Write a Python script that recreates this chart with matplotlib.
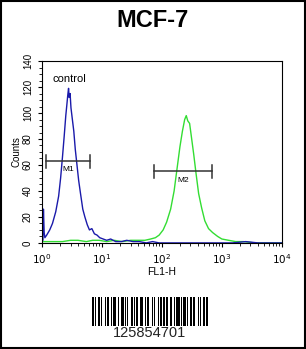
import matplotlib
matplotlib.use("Agg")
import matplotlib.pyplot as plt
import matplotlib.ticker as mticker
from matplotlib.patches import Rectangle
import numpy as np

plt.rcParams['font.family'] = ['Liberation Sans', 'DejaVu Sans']

# blue (control) histogram
ctrl_x = [1.00, 1.04, 1.06, 1.09, 1.12, 1.2, 1.35, 1.5, 1.7, 1.9, 2.05, 2.2, 2.35, 2.5, 2.6,
          2.7, 2.78, 2.85, 2.95, 3.05, 3.2, 3.4, 3.6, 3.8, 4.1, 4.4, 4.8, 5.2, 5.7,
          6.2, 6.8, 7.5, 8.3, 9.2, 10.5, 12, 14, 17, 21, 26, 33, 42, 55, 70, 90,
          120, 160, 220, 300, 500, 900, 1500, 2500, 4000, 10000]
ctrl_y = [2, 2, 26, 8, 4, 6, 10, 15, 24, 36, 50, 66, 82, 98, 106,
          114, 119, 112, 115, 104, 96, 86, 72, 62, 48, 38, 26, 20, 14,
          10, 11, 7, 6, 4, 3, 2, 3, 1, 1, 2, 1, 1, 0, 1, 0,
          0, 0, 0, 0, 0, 0, 0, 1, 0, 0]

# green (sample) histogram
samp_x = [1.0, 1.5, 2.2, 3.0, 4.0, 5.5, 7, 9, 12, 16, 22, 30, 40, 52, 65, 78,
          90, 105, 120, 140, 160, 180, 200, 220, 240, 255, 270, 290, 310, 340,
          370, 410, 460, 520, 600, 700, 850, 1000, 1300, 1700, 2300, 3500, 6000, 10000]
samp_y = [1, 1, 1, 2, 2, 1, 2, 2, 1, 2, 1, 2, 2, 2, 3, 4,
          6, 10, 16, 26, 40, 58, 74, 86, 95, 98, 94, 92, 82, 68,
          54, 38, 27, 17, 11, 8, 5, 3, 2, 1, 1, 0, 0, 0]

# marker gates
gates = [("M1", 1.17, 6.3, 63), ("M2", 73, 680, 55)]

# barcode bar/space widths (alternating, starting with bar)
barcode = [2, 1, 1, 1, 2, 1, 1, 2, 1, 1, 2, 1, 1, 1, 3, 1, 1, 2, 2, 1, 1, 1, 1, 2,
           2, 1, 1, 1, 1, 2, 3, 1, 1, 1, 2, 2, 1, 1, 1, 2, 1, 1, 2, 1, 1, 1, 2, 2,
           1, 2, 1, 1, 3, 1, 1, 1, 2, 1, 1, 2, 1, 1, 2, 2, 1, 1, 1, 2, 1, 1, 2]
barcode_text = "125854701"

fig = plt.figure(figsize=(3.06, 3.49), dpi=100)
fig.patches.append(Rectangle((0.003, 0.003), 0.994, 0.994, transform=fig.transFigure,
                             fill=False, edgecolor='black', linewidth=1.5))

fig.text(0.5, 0.942, "MCF-7", ha='center', va='center', fontsize=17, fontweight='bold')

ax = fig.add_axes([0.137, 0.304, 0.784, 0.521])
ax.plot(samp_x, samp_y, color='#33dd33', linewidth=1.0)
ax.plot(ctrl_x, ctrl_y, color='#1a1aaa', linewidth=1.0)
ax.set_xscale('log')
ax.set_xlim(1, 10000)
ax.set_ylim(0, 140)
ax.yaxis.set_major_locator(mticker.MultipleLocator(20))
ax.yaxis.set_minor_locator(mticker.MultipleLocator(5))
ax.xaxis.set_major_formatter(mticker.FuncFormatter(lambda v, _: r"$10^{%d}$" % round(np.log10(v))))
ax.tick_params(axis='both', labelsize=7, length=3, width=0.8)
ax.tick_params(axis='x', labelsize=7.5)
ax.tick_params(which='minor', length=2)
for lab in ax.get_yticklabels():
    lab.set_rotation(90)
    lab.set_va('center')
ax.set_ylabel("Counts", fontsize=7, labelpad=1)
ax.set_xlabel("FL1-H", fontsize=7.5, labelpad=1)

for name, x0, x1, y in gates:
    ax.plot([x0, x1], [y, y], color='#333333', linewidth=1.1)
    ax.plot([x0, x0], [y - 5, y + 5], color='#333333', linewidth=1.1)
    ax.plot([x1, x1], [y - 5, y + 5], color='#333333', linewidth=1.1)
    ax.text(np.sqrt(x0 * x1), y - 4, name, ha='center', va='top', fontsize=6)

ax.text(2.9, 122, "control", ha='center', va='bottom', fontsize=8)

# barcode
bax = fig.add_axes([0.30, 0.065, 0.38, 0.085])
pos = 0
for i, w in enumerate(barcode):
    if i % 2 == 0:
        bax.bar(pos, 1, width=w, align='edge', color='black')
    pos += w
bax.set_xlim(0, pos)
bax.set_ylim(0, 1)
bax.axis('off')
fig.text(0.49, 0.045, barcode_text, ha='center', va='center', fontsize=10.5, color='#222222')

fig.savefig("out.png", dpi=100)
